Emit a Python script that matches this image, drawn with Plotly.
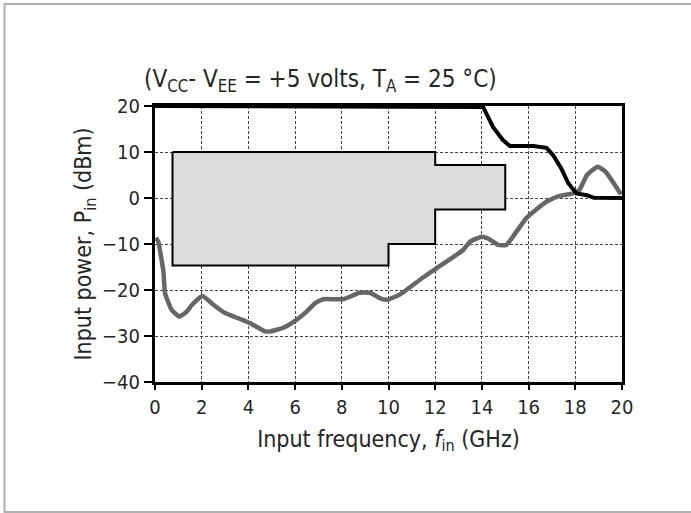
import plotly.graph_objects as go

# ---- data ----
freq_gray = [0.04, 0.14, 0.36, 0.43, 0.71, 1.04, 1.36, 1.57, 2.03, 2.5, 3.0, 3.64, 4.07, 4.71, 4.93,
             5.5, 6.06, 6.49, 6.85, 7.2, 8.06, 8.76, 9.2, 9.65, 9.95, 10.48, 11.45, 12.05, 13.2,
             13.49, 13.98, 14.27, 14.7, 15.05, 15.48, 15.9, 16.3, 16.8, 17.3, 17.9, 18.17, 18.5,
             18.96, 19.3, 19.96]
pin_gray = [-8.6, -9.5, -16.0, -20.7, -24.3, -25.8, -24.7, -23.3, -21.3, -23.2, -25.0, -26.3, -27.2,
            -29.0, -29.0, -28.2, -26.5, -24.7, -22.9, -22.0, -22.0, -20.6, -20.6, -21.8, -22.1, -21.0,
            -17.4, -15.3, -11.3, -9.5, -8.4, -8.8, -10.2, -10.2, -7.3, -4.4, -2.6, -0.7, 0.4, 1.0,
            1.7, 5.0, 6.8, 5.7, 0.8]

freq_black = [0.0, 14.05, 14.48, 14.9, 15.2, 16.2, 16.77, 17.05, 17.4, 17.7, 18.05, 18.5, 18.8, 20.0]
pin_black = [20.0, 19.8, 15.4, 12.6, 11.3, 11.3, 10.9, 9.3, 6.4, 3.2, 1.0, 0.6, 0.05, 0.0]

region_f = [0.75, 12.0, 12.0, 15.0, 15.0, 12.0, 12.0, 10.0, 10.0, 0.75, 0.75]
region_p = [10.0, 10.0, 7.2, 7.2, -2.5, -2.5, -10.0, -10.0, -14.7, -14.7, 10.0]

x_ticks = [0, 2, 4, 6, 8, 10, 12, 14, 16, 18, 20]
y_ticks = [-40, -30, -20, -10, 0, 10, 20]

FAM = "DejaVu Sans Condensed"
TXT = "#262626"


def fnt(size):
    return dict(size=size, family=FAM, color=TXT)


fig = go.Figure()
fig.add_trace(go.Scatter(x=region_f, y=region_p, mode="lines", fill="toself",
                         fillcolor="#dcdcdc", line=dict(color="black", width=2),
                         hoverinfo="skip", showlegend=False))
fig.add_trace(go.Scatter(x=freq_gray, y=pin_gray, mode="lines",
                         line=dict(color="#666666", width=4.5, shape="spline", smoothing=0.4),
                         showlegend=False))
fig.add_trace(go.Scatter(x=freq_black, y=pin_black, mode="lines",
                         line=dict(color="black", width=4),
                         showlegend=False))

W, H = 691, 513
ml, mr, mt, mb = 155, 69, 106, 131
pw, ph = W - ml - mr, H - mt - mb


def px(x):
    return (x - ml) / pw


def py(y):
    return (H - mb - y) / ph


frame_path = "M {r},{t} L {l},{t} L {l},{b} L {r},{b}".format(
    l=px(4.5), r=px(760), t=py(4), b=py(512))

fig.update_layout(
    width=W, height=H,
    margin=dict(l=ml, r=mr, t=mt, b=mb, pad=0),
    paper_bgcolor="white", plot_bgcolor="white",
    font=fnt(19),
    xaxis=dict(range=[0, 20], tickvals=x_ticks, ticks="outside", ticklen=5, tickwidth=2,
               tickcolor="black", showline=True, linecolor="black", linewidth=3, mirror=True,
               showgrid=True, gridcolor="#444444", gridwidth=1, griddash="3px,2px",
               zeroline=False, tickfont=fnt(20),
               title=dict(text="Input frequency, <i>f</i><sub>in</sub> (GHz)",
                          font=fnt(23), standoff=13)),
    yaxis=dict(range=[-40, 20], tickvals=y_ticks, ticks="outside", ticklen=8, tickwidth=2,
               tickcolor="black", showline=True, linecolor="black", linewidth=3, mirror=True,
               showgrid=True, gridcolor="#444444", gridwidth=1, griddash="3px,2px",
               zeroline=False, tickfont=fnt(20),
               title=dict(text="Input power, P<sub>in</sub> (dBm)",
                          font=fnt(23), standoff=4)),
    annotations=[dict(text="(V<sub>CC</sub>- V<sub>EE</sub> = +5 volts, T<sub>A</sub> = 25 °C)",
                      xref="paper", yref="paper", x=px(320), y=py(80), xanchor="center",
                      yanchor="middle", showarrow=False, font=fnt(24))],
    shapes=[dict(type="path", xref="paper", yref="paper", path=frame_path,
                 line=dict(color="#b0b0b0", width=2), layer="below")],
)

fig.write_html("out.html", config={"displayModeBar": False},
               post_script="document.body.style.margin='0';document.body.style.overflow='hidden';")
